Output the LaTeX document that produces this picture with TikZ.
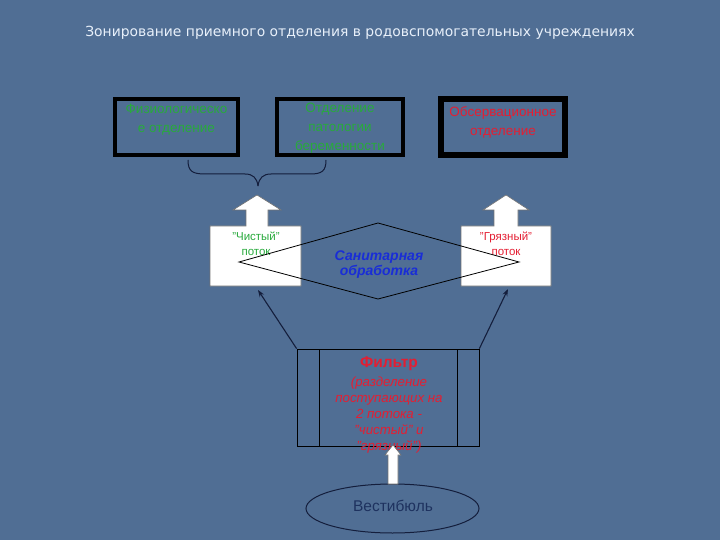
\documentclass[tikz,border=0pt]{standalone}
\usepackage{fontspec}
\setmainfont{Liberation Sans}
\newfontfamily\titlefont{DejaVu Sans}
\usetikzlibrary{arrows.meta,shapes.geometric}
\definecolor{bgcol}{RGB}{80,110,148}
\definecolor{titlecol}{RGB}{232,240,250}
\definecolor{gtxt}{RGB}{40,170,60}
\definecolor{rtxt}{RGB}{228,30,50}
\definecolor{btxt}{RGB}{25,45,215}
\definecolor{navy}{RGB}{20,30,60}
\definecolor{vtxt}{RGB}{30,50,95}
\tikzset{
  dept/.style={draw=black, line width=4pt, inner sep=0pt},
  blockarrow/.style={fill=white, draw=black!55, line width=0.6pt},
  conn/.style={draw=navy, line width=1.1pt, -{Stealth[length=7pt,width=5pt]}},
  thinline/.style={draw=black, line width=0.8pt},
}
\begin{document}
\begin{tikzpicture}[x=1pt,y=-1pt]
\fill[bgcol] (0,0) rectangle (720,540);
\useasboundingbox (0,0) rectangle (720,540);

% title
\node[font=\titlefont\fontsize{13.9}{16}\selectfont, text=titlecol] (title) at (360,33) {Зонирование приемного отделения в родовспомогательных учреждениях};

% department boxes
\node[dept, minimum width=123pt, minimum height=56pt] (b1) at (176.5,127) {};
\node[dept, minimum width=126pt, minimum height=56pt] (b2) at (340,127) {};
\node[dept, line width=6pt, minimum width=124pt, minimum height=56pt] (b3) at (503,127) {};
\node[text=gtxt, align=center, font=\fontsize{13.5}{19}\selectfont] (t1) at (176.5,119.5) {Физиологическо\\е отделение};
\node[text=gtxt, align=center, font=\fontsize{13.5}{19}\selectfont] (t2) at (340,128) {Отделение\\патологии\\беременности};
\node[text=rtxt, align=center, font=\fontsize{13.5}{19}\selectfont] (t3) at (503,122.5) {Обсервационное\\отделение};

% brace
\draw[navy, line width=1pt] (188,160) .. controls (188,171) and (192,174) .. (205,174) -- (245,174) .. controls (253,174) and (257,178) .. (258,186);
\draw[navy, line width=1pt] (326,160) .. controls (326,171) and (322,174) .. (310,174) -- (271,174) .. controls (263,174) and (259,178) .. (258,186);

% block arrows (clean / dirty flow)
\draw[blockarrow] (210,226) -- (246,226) -- (246,210) -- (233,210) -- (257,195) -- (281,210) -- (268,210) -- (268,226) -- (301,226) -- (301,286) -- (210,286) -- cycle;
\draw[blockarrow] (461,226) -- (494,226) -- (494,210) -- (483,210) -- (506,195) -- (529,210) -- (518,210) -- (518,226) -- (551,226) -- (551,286) -- (461,286) -- cycle;
\node[text=gtxt, align=center, font=\fontsize{11.5}{15}\selectfont] (clean) at (256,243.5) {"Чистый"\\поток};
\node[text=rtxt, align=center, font=\fontsize{11.5}{15}\selectfont] (dirty) at (506,243.5) {"Грязный"\\поток};
\coordinate (lbot) at (258,290);
\coordinate (rbot) at (508,289);

% diamond
\coordinate (dl) at (239,262);
\coordinate (dt) at (378,223);
\coordinate (dr) at (519,262);
\coordinate (db) at (378,299);
\draw[thinline] (dl) -- (dt) -- (dr) -- (db) -- cycle;
\node[text=btxt, align=center, font=\bfseries\itshape\fontsize{14}{15}\selectfont] (san) at (379,265) {Санитарная\\обработка};

% filter
\node[draw=black, line width=0.8pt, minimum width=182pt, minimum height=97pt, inner sep=0pt] (filt) at (388,397.5) {};
\draw[thinline] (319,349) -- (319,446);
\draw[thinline] (457,349) -- (457,446);
\node[text=rtxt, align=center, anchor=north, font=\fontsize{13.3}{16}\selectfont] (filttxt) at (389,353) {{\bfseries\fontsize{15.5}{16}\selectfont Фильтр}\\[3pt]\itshape (разделение\\\itshape поступающих на\\\itshape 2 потока -\\\itshape "чистый" и\\\itshape "грязный")};

% connectors from filter
\draw[conn] (filt.north west) -- (lbot);
\draw[conn] (filt.north east) -- (rbot);

% vestibule
\node[ellipse, draw=navy, line width=1pt, minimum width=173pt, minimum height=49pt, inner sep=0pt] (vest) at (392.5,508.5) {};
\node[text=vtxt, font=\fontsize{15.5}{17}\selectfont] (vesttxt) at (393,505.5) {Вестибюль};
\draw[blockarrow] (388,484) -- (388,455) -- (385,455) -- (393,445) -- (401,455) -- (398,455) -- (398,484) -- cycle;
\end{tikzpicture}
\end{document}
